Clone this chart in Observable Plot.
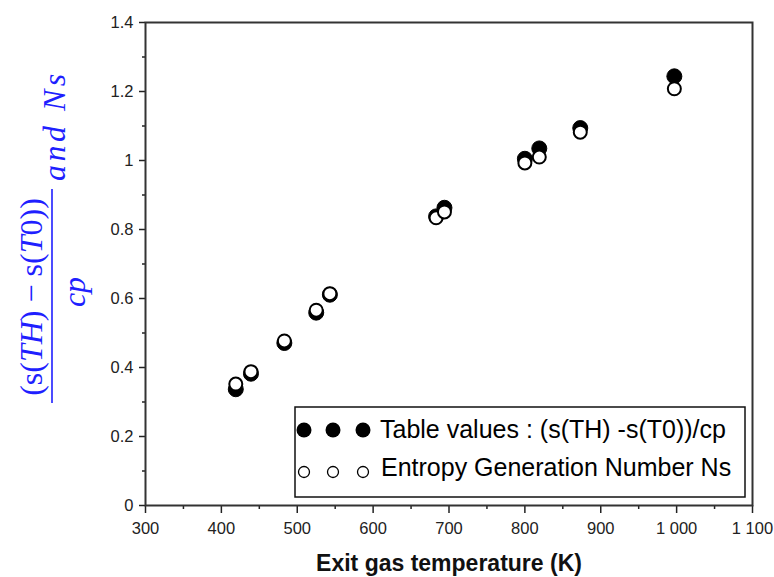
<!DOCTYPE html>
<html><head><meta charset="utf-8">
<script src="https://cdn.jsdelivr.net/npm/d3@7"></script>
<script src="https://cdn.jsdelivr.net/npm/@observablehq/plot@0.6"></script>
<style>html,body{margin:0;padding:0;background:#fff;} svg{display:block}</style>
</head><body><div id="chart"></div>
<script>
// ---- data ----
const temperatures = [419, 439, 483, 525, 543, 683, 694, 800, 819, 873, 997];
const tableValues  = [0.337, 0.382, 0.471, 0.559, 0.611, 0.838, 0.863, 1.005, 1.035, 1.094, 1.244];
const nsValues     = [0.352, 0.388, 0.477, 0.566, 0.614, 0.834, 0.851, 0.993, 1.010, 1.082, 1.208];
const xTicks = [300, 400, 500, 600, 700, 800, 900, 1000, 1100];
const xMinorTicks = [350, 450, 550, 650, 750, 850, 950, 1050];
const yTicks = [0, 0.2, 0.4, 0.6, 0.8, 1.0, 1.2, 1.4];
const yMinorTicks = [0.1, 0.3, 0.5, 0.7, 0.9, 1.1, 1.3];
const seriesLabels = ["Table values : (s(TH) -s(T0))/cp", "Entropy Generation Number Ns"];
const xLabel = "Exit gas temperature (K)";

const table = temperatures.map((t, i) => ({T: t, v: tableValues[i]}));
const ns = temperatures.map((t, i) => ({T: t, v: nsValues[i]}));

const fmtX = d => d >= 1000 ? d3.format(",")(d).replace(/,/g, " ") : String(d);
const fmtY = d => String(+d.toFixed(2));

const plot = Plot.plot({
  width: 774, height: 577,
  marginLeft: 145, marginRight: 22, marginTop: 22, marginBottom: 72,
  style: {fontFamily: "'Liberation Sans', Arial, sans-serif", fontSize: "16.5px", color: "#222", background: "#fff"},
  x: {domain: [300, 1100], label: null},
  y: {domain: [0, 1.4], label: null},
  marks: [
    Plot.axisX(xTicks, {tickSize: 8, tickPadding: 9, tickFormat: fmtX, label: null, strokeWidth: 1.5}),
    Plot.axisX(xMinorTicks, {tickSize: 4, tickFormat: () => "", label: null, strokeWidth: 1.5}),
    Plot.axisY(yTicks, {tickSize: 6, tickPadding: 6, tickFormat: fmtY, label: null, strokeWidth: 1.5}),
    Plot.axisY(yMinorTicks, {tickSize: 3, tickFormat: () => "", label: null, strokeWidth: 1.5}),
    Plot.frame({stroke: "#333", strokeWidth: 2}),
    Plot.dot(table, {x: "T", y: "v", r: 7.5, fill: "black", stroke: "black", strokeWidth: 1}),
    Plot.dot(ns, {x: "T", y: "v", r: 6.5, fill: "white", stroke: "black", strokeWidth: 2})
  ]
});
document.getElementById("chart").appendChild(plot);

const svg = d3.select(plot);

// x axis title
svg.append("text")
  .attr("x", 449).attr("y", 571)
  .attr("text-anchor", "middle")
  .attr("font-family", "'Liberation Sans', Arial, sans-serif")
  .attr("font-size", 23).attr("font-weight", "bold").attr("fill", "#111")
  .text(xLabel);

// legend
const lg = svg.append("g").attr("text-anchor", "start");
lg.append("rect").attr("x", 295).attr("y", 407).attr("width", 450).attr("height", 90)
  .attr("fill", "white").attr("stroke", "#111").attr("stroke-width", 1.5);
[304, 333, 363].forEach(cx => lg.append("circle").attr("cx", cx).attr("cy", 430).attr("r", 7.5).attr("fill", "black"));
[304, 333, 363].forEach(cx => lg.append("circle").attr("cx", cx).attr("cy", 472).attr("r", 5.5)
  .attr("fill", "white").attr("stroke", "black").attr("stroke-width", 1.3));
lg.append("text").attr("x", 380).attr("y", 438).attr("text-anchor", "start")
  .attr("font-family", "'Liberation Sans', Arial, sans-serif").attr("font-size", 25).attr("fill", "#000")
  .text(seriesLabels[0]);
lg.append("text").attr("x", 381).attr("y", 476).attr("text-anchor", "start")
  .attr("font-family", "'Liberation Sans', Arial, sans-serif").attr("font-size", 25).attr("fill", "#000")
  .text(seriesLabels[1]);

// y axis label (math style, rotated)
const blue = "#1f1fff";
const yl = svg.append("g").attr("transform", "rotate(-90)")
  .attr("font-family", "'Liberation Serif', 'Times New Roman', serif")
  .attr("font-size", 32).attr("fill", blue);
const num = yl.append("text").attr("x", -297).attr("y", 42).attr("text-anchor", "middle");
num.append("tspan").text("(s(");
num.append("tspan").attr("font-style", "italic").text("TH");
num.append("tspan").text(") \u2212 s(");
num.append("tspan").attr("font-style", "italic").text("T");
num.append("tspan").text("0))");
yl.append("line").attr("x1", -403).attr("x2", -189).attr("y1", 52).attr("y2", 52)
  .attr("stroke", blue).attr("stroke-width", 1.6);
yl.append("text").attr("x", -292).attr("y", 85).attr("text-anchor", "middle")
  .attr("font-style", "italic").text("cp");
yl.append("text").attr("x", -181).attr("y", 65).attr("text-anchor", "start")
  .attr("font-style", "italic").attr("letter-spacing", 3.5).text("and Ns");
</script>
</body></html>
